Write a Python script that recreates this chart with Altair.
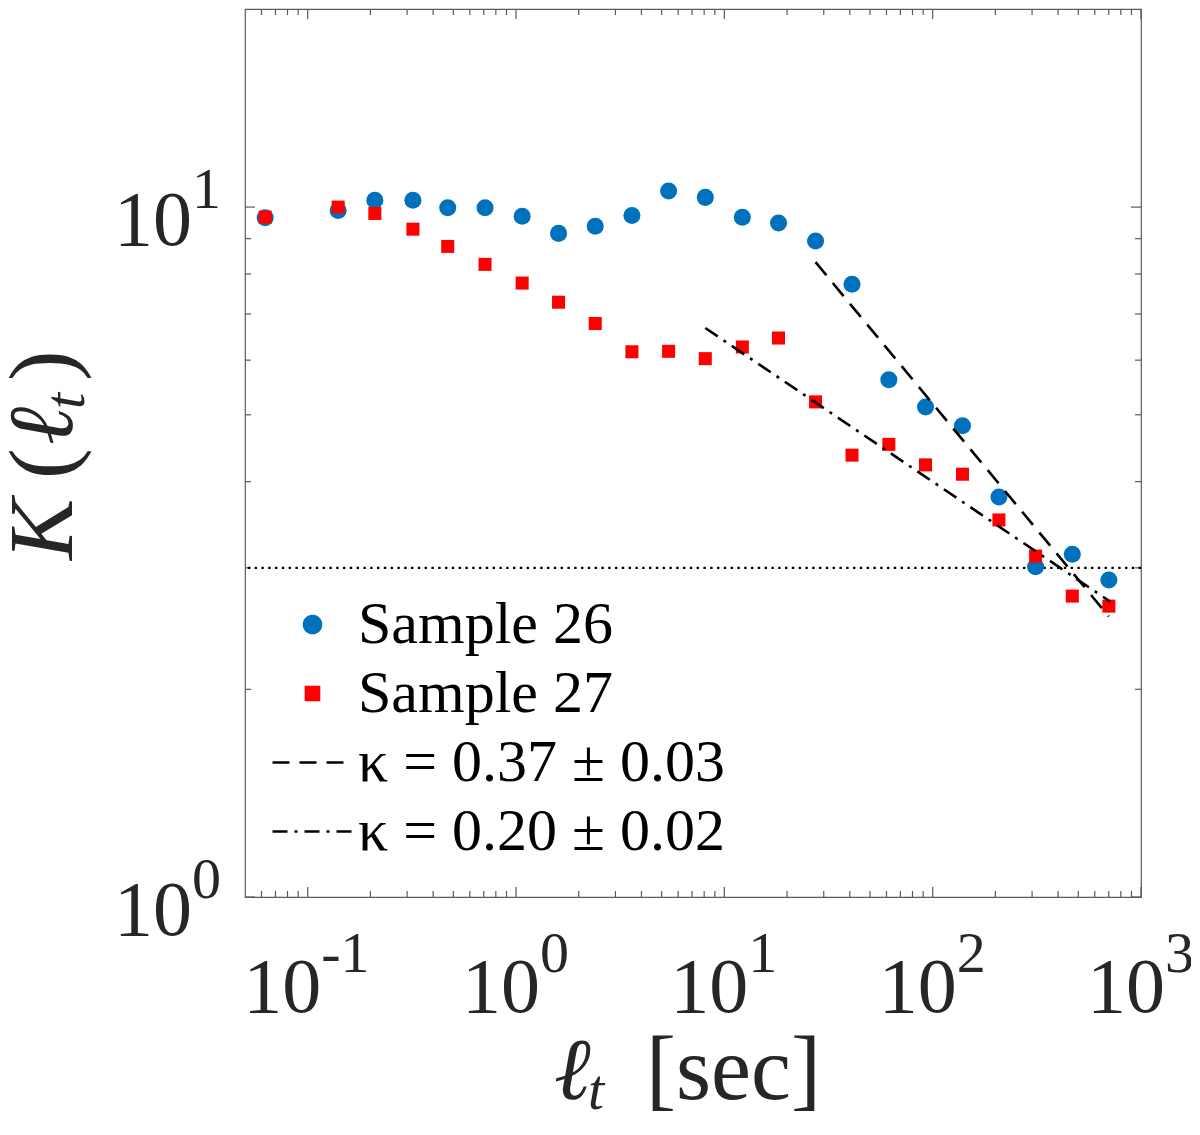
import altair as alt
import pandas as pd

# lag time (sec), shared by both samples
lag = [0.0625, 0.14, 0.21, 0.32, 0.47, 0.71, 1.07, 1.6, 2.4, 3.6, 5.4, 8.1,
       12.2, 18.2, 27.4, 41, 61.6, 92.4, 139, 208, 312, 468, 701]
k26 = [9.65, 9.89, 10.23, 10.23, 9.98, 9.98, 9.70, 9.16, 9.38, 9.72, 10.55, 10.33,
       9.67, 9.48, 8.93, 7.73, 5.62, 5.13, 4.82, 3.80, 3.01, 3.14, 2.88]
k27 = [9.67, 10.0, 9.79, 9.29, 8.77, 8.26, 7.76, 7.28, 6.78, 6.17, 6.18, 6.03,
       6.27, 6.46, 5.22, 4.37, 4.53, 4.23, 4.10, 3.52, 3.12, 2.73, 2.64]

# power-law fits
fit37_x = [27.4, 701]
fit37_y = [8.32, 2.55]
fit20_x = [8.1, 711]
fit20_y = [6.68, 2.68]
ref_level = [3]

names = ["Sample 26", "Sample 27", "κ = 0.37 ± 0.03", "κ = 0.20 ± 0.02"]

# axis ticks and labels
x_major = [0.1, 1, 10, 100, 1000]
x_exp = ["-1", "0", "1", "2", "3"]
x_minor = [0.06, 0.07, 0.08, 0.09,
           0.2, 0.3, 0.4, 0.5, 0.6, 0.7, 0.8, 0.9,
           2, 3, 4, 5, 6, 7, 8, 9,
           20, 30, 40, 50, 60, 70, 80, 90,
           200, 300, 400, 500, 600, 700, 800, 900]
y_major = [1, 10]
y_exp = ["0", "1"]
y_minor = [2, 3, 4, 5, 6, 7, 8, 9]

W, H = 896, 888
SERIF = "Liberation Serif"
AX = "#5a5a5a"
LAB = "#262626"

xs = alt.Scale(type="log", domain=[0.05, 1000], nice=False)
ys = alt.Scale(type="log", domain=[1, 19.37], nice=False)

pts = pd.DataFrame({
    "lag": lag + lag,
    "K": k26 + k27,
    "series": [names[0]] * len(lag) + [names[1]] * len(lag),
})
fits = pd.DataFrame({
    "lag": fit37_x + fit20_x,
    "K": fit37_y + fit20_y,
    "series": [names[2]] * 2 + [names[3]] * 2,
})

leg = alt.Legend(
    title=None, orient="none", legendX=26, legendY=581, padding=0,
    columns=1, labelFont=SERIF, labelFontSize=60, labelColor="black",
    labelLimit=1000, labelOffset=4, rowPadding=0, clipHeight=69,
    symbolStrokeWidth=2.6,
)
color_sc = alt.Scale(domain=names, range=["#0072BD", "#FF0000", "black", "black"])
shape_sc = alt.Scale(domain=names, range=["circle", "square", "stroke", "stroke"])
size_sc = alt.Scale(type="ordinal", domain=names, range=[290, 170, 6400, 6400])
dash_sc = alt.Scale(domain=names, range=[[1, 0], [1, 0], [17, 10], [15, 7, 3, 7]])

points = alt.Chart(pts).mark_point(filled=True, opacity=1, strokeWidth=0).encode(
    x=alt.X("lag:Q", scale=xs, axis=None),
    y=alt.Y("K:Q", scale=ys, axis=None),
    color=alt.Color("series:N", scale=color_sc, legend=leg),
    shape=alt.Shape("series:N", scale=shape_sc, legend=leg),
    size=alt.Size("series:N", scale=size_sc, legend=leg),
)

lines = alt.Chart(fits).mark_line(strokeWidth=2.6).encode(
    x=alt.X("lag:Q", scale=xs, axis=None),
    y=alt.Y("K:Q", scale=ys, axis=None),
    color=alt.Color("series:N", scale=color_sc, legend=leg),
    strokeDash=alt.StrokeDash("series:N", scale=dash_sc, legend=leg),
)

level = alt.Chart(pd.DataFrame({"K": ref_level})).mark_rule(
    color="black", strokeWidth=2.4, strokeDash=[2.4, 4.4]
).encode(y=alt.Y("K:Q", scale=ys, axis=None))


def xticks(vals, length):
    d = pd.DataFrame({"v": vals})
    base = alt.Chart(d).mark_rule(color=AX, strokeWidth=1.2)
    xe = alt.X("v:Q", scale=xs, axis=None)
    bottom = base.encode(x=xe, y=alt.value(H), y2=alt.value(H - length))
    top = base.encode(x=xe, y=alt.value(0), y2=alt.value(length))
    return [bottom, top]


def yticks(vals, length):
    d = pd.DataFrame({"v": vals})
    base = alt.Chart(d).mark_rule(color=AX, strokeWidth=1.2)
    ye = alt.Y("v:Q", scale=ys, axis=None)
    left = base.encode(y=ye, x=alt.value(0), x2=alt.value(length))
    right = base.encode(y=ye, x=alt.value(W), x2=alt.value(W - length))
    return [left, right]


ticks = xticks(x_major, 10) + xticks(x_minor, 6) + yticks(y_major, 10) + yticks(y_minor, 6)

# tick labels "10" with superscript exponent
xl = pd.DataFrame({"v": x_major, "e": x_exp})
xl_layers = []
for neg, anchor in [(True, 13.5), (False, 24)]:
    flt = "datum.v < 1" if neg else "datum.v >= 1"
    xl_layers.append(
        alt.Chart(xl).transform_filter(flt).mark_text(
            text="10", font=SERIF, fontSize=78, color=LAB, align="right",
            baseline="alphabetic", dx=anchor
        ).encode(x=alt.X("v:Q", scale=xs, axis=None), y=alt.value(H + 115))
    )
    xl_layers.append(
        alt.Chart(xl).transform_filter(flt).mark_text(
            font=SERIF, fontSize=58, color=LAB, align="left",
            baseline="alphabetic", dx=anchor
        ).encode(x=alt.X("v:Q", scale=xs, axis=None), y=alt.value(H + 75),
                 text="e:N")
    )

yl = pd.DataFrame({"v": y_major, "e": y_exp})
yl_base = alt.Chart(yl).mark_text(
    text="10", font=SERIF, fontSize=78, color=LAB, align="right",
    baseline="alphabetic", dy=38
).encode(y=alt.Y("v:Q", scale=ys, axis=None), x=alt.value(-53))
yl_sup = alt.Chart(yl).mark_text(
    font=SERIF, fontSize=58, color=LAB, align="left", baseline="alphabetic", dy=1
).encode(y=alt.Y("v:Q", scale=ys, axis=None), x=alt.value(-53), text="e:N")


def piece(txt, x, y, size, style="normal", angle=0):
    return alt.Chart(pd.DataFrame({"t": [txt]})).mark_text(
        font=SERIF, fontSize=size, fontStyle=style, color=LAB, align="left",
        baseline="alphabetic", angle=angle
    ).encode(text="t:N", x=alt.value(x), y=alt.value(y))


# axis titles: K(l_t) rotated, l_t [sec]
ytitle = [
    piece("K", -173, 551, 92, "italic", 270),
    piece("(", -173, 470, 92, "normal", 270),
    piece("ℓ", -173, 436, 92, "italic", 270),
    piece("t", -161, 400, 58, "italic", 270),
    piece(")", -173, 372, 92, "normal", 270),
]
xtitle = [
    piece("ℓ", 309, H + 202, 88, "italic"),
    piece("t", 343, H + 212, 58, "italic"),
    piece("[sec]", 401, H + 202, 90),
]

chart = alt.layer(
    *ticks, level, points, lines, *xl_layers, yl_base, yl_sup, *ytitle, *xtitle
).properties(
    width=W, height=H,
    autosize=alt.AutoSizeParams(type="none"),
    padding={"left": 237, "top": 1, "right": 50, "bottom": 221},
).configure_view(stroke=AX, strokeWidth=1.2)

chart.save("out.html", embed_options={"renderer": "svg", "actions": False})
